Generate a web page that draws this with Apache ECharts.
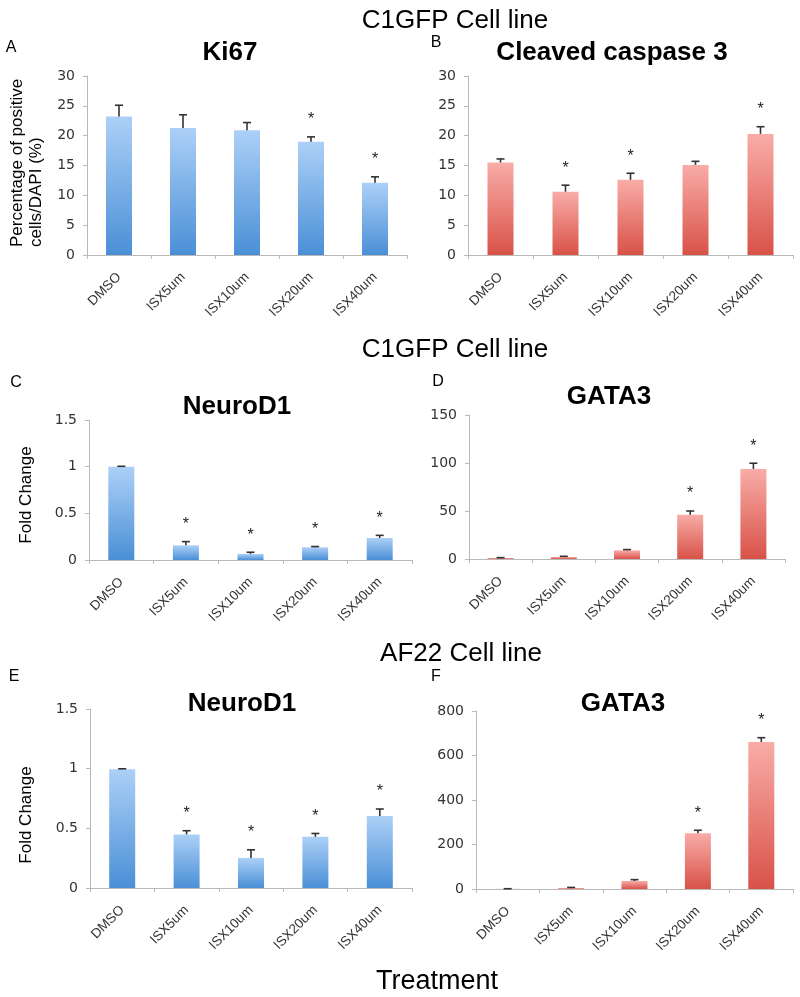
<!DOCTYPE html>
<html>
<head>
<meta charset="utf-8">
<script src="https://cdn.jsdelivr.net/npm/echarts@6/dist/echarts.min.js"></script>
<style>html,body{margin:0;padding:0;background:#fff;}#main{width:800px;height:997px;}</style>
</head>
<body>
<div id="main"></div>
<script>
const categories = ['DMSO', 'ISX5um', 'ISX10um', 'ISX20um', 'ISX40um'];

// Panel A: Ki67 (C1GFP)
const ki67 = [23.2, 21.3, 20.9, 19.0, 12.1];
const ki67Err = [1.9, 2.2, 1.3, 0.8, 1.0];
const ki67Sig = [0, 0, 0, 1, 1];
// Panel B: Cleaved caspase 3 (C1GFP)
const casp3 = [15.5, 10.6, 12.6, 15.1, 20.3];
const casp3Err = [0.6, 1.1, 1.1, 0.6, 1.2];
const casp3Sig = [0, 1, 1, 0, 1];
// Panel C: NeuroD1 (C1GFP)
const neuroC1 = [1.0, 0.157, 0.065, 0.136, 0.236];
const neuroC1Err = [0.004, 0.04, 0.018, 0.008, 0.028];
const neuroC1Sig = [0, 1, 1, 1, 1];
// Panel D: GATA3 (C1GFP)
const gataC1 = [1.0, 2.1, 9.0, 46.2, 93.8];
const gataC1Err = [0.4, 0.7, 0.8, 3.8, 6.0];
const gataC1Sig = [0, 0, 0, 1, 1];
// Panel E: NeuroD1 (AF22)
const neuroAF = [0.995, 0.449, 0.252, 0.429, 0.603];
const neuroAFErr = [0.004, 0.031, 0.068, 0.028, 0.059];
const neuroAFSig = [0, 1, 1, 1, 1];
// Panel F: GATA3 (AF22)
const gataAF = [0.8, 4, 36, 251, 661];
const gataAFErr = [0.5, 3, 6, 13, 19];
const gataAFSig = [0, 0, 0, 1, 1];

const blueGrad = new echarts.graphic.LinearGradient(0, 0, 0, 1, [
  {offset: 0, color: '#acd0f7'}, {offset: 1, color: '#4a8fd6'}]);
const redGrad = new echarts.graphic.LinearGradient(0, 0, 0, 1, [
  {offset: 0, color: '#f9aca7'}, {offset: 1, color: '#d85248'}]);

const panels = [
  {vals: ki67, err: ki67Err, sig: ki67Sig, color: blueGrad, max: 30, interval: 5,
   grid: {left: 87, top: 76, width: 320, height: 179}},
  {vals: casp3, err: casp3Err, sig: casp3Sig, color: redGrad, max: 30, interval: 5,
   grid: {left: 468, top: 76, width: 325, height: 179}},
  {vals: neuroC1, err: neuroC1Err, sig: neuroC1Sig, color: blueGrad, max: 1.5, interval: 0.5,
   grid: {left: 89, top: 420, width: 323, height: 140}},
  {vals: gataC1, err: gataC1Err, sig: gataC1Sig, color: redGrad, max: 150, interval: 50,
   grid: {left: 469, top: 415, width: 316, height: 144}},
  {vals: neuroAF, err: neuroAFErr, sig: neuroAFSig, color: blueGrad, max: 1.5, interval: 0.5,
   grid: {left: 90, top: 709, width: 322, height: 179}},
  {vals: gataAF, err: gataAFErr, sig: gataAFSig, color: redGrad, max: 800, interval: 200,
   grid: {left: 476, top: 711, width: 317, height: 178}}
];

const axisGray = '#b9b9b9';
const grids = [], xAxes = [], yAxes = [], series = [];
panels.forEach((p, i) => {
  grids.push(Object.assign({containLabel: false}, p.grid));
  xAxes.push({
    type: 'category', gridIndex: i, data: categories,
    axisLine: {lineStyle: {color: axisGray, width: 1}},
    axisTick: {show: true, length: 4, lineStyle: {color: axisGray}},
    axisLabel: {rotate: 45, margin: 20, fontSize: 13.5, color: '#333', fontFamily: 'Liberation Sans, Arial, sans-serif'}
  });
  yAxes.push({
    type: 'value', gridIndex: i, min: 0, max: p.max, interval: p.interval,
    splitLine: {show: false},
    axisLine: {show: true, lineStyle: {color: axisGray, width: 1}},
    axisTick: {show: true, length: 4, lineStyle: {color: axisGray}},
    axisLabel: {margin: 12, fontSize: 14, color: '#333', fontFamily: 'DejaVu Sans, sans-serif'}
  });
  series.push({
    type: 'bar', xAxisIndex: i, yAxisIndex: i, data: p.vals, barWidth: 26,
    itemStyle: {color: p.color}, silent: true, animation: false
  });
  series.push({
    type: 'custom', xAxisIndex: i, yAxisIndex: i, animation: false, silent: true, z: 5,
    data: p.vals.map((v, k) => [k, v, p.err[k], p.sig[k]]),
    renderItem: function (params, api) {
      const x = api.value(0), v = api.value(1), e = api.value(2), s = api.value(3);
      const p0 = api.coord([x, v]);
      const p1 = api.coord([x, v + e]);
      const children = [
        {type: 'line', shape: {x1: p0[0], y1: p0[1], x2: p1[0], y2: p1[1]}, style: {stroke: '#333', lineWidth: 1.6}},
        {type: 'line', shape: {x1: p1[0] - 4, y1: p1[1], x2: p1[0] + 4, y2: p1[1]}, style: {stroke: '#333', lineWidth: 1.6}}
      ];
      if (s) {
        children.push({type: 'text', x: p1[0], y: p1[1] - 17,
          style: {text: '*', fill: '#222', font: '16px Liberation Sans, Arial, sans-serif', align: 'center', verticalAlign: 'middle'}});
      }
      return {type: 'group', children: children};
    }
  });
});

function txt(x, y, text, font, extra) {
  return Object.assign({type: 'text', x: x, y: y,
    style: Object.assign({text: text, font: font, fill: '#000', align: 'center', verticalAlign: 'middle'}, extra || {})});
}
const sec = '26px Liberation Sans, Arial, sans-serif';
const ttl = 'bold 26px Liberation Sans, Arial, sans-serif';
const lab = '16px Liberation Sans, Arial, sans-serif';
const graphics = [
  txt(455, 21, 'C1GFP Cell line', sec),
  txt(455, 350, 'C1GFP Cell line', sec),
  txt(461, 654, 'AF22 Cell line', sec),
  txt(437, 982, 'Treatment', '27px Liberation Sans, Arial, sans-serif'),
  txt(230, 53, 'Ki67', ttl),
  txt(612, 53, 'Cleaved caspase 3', ttl),
  txt(237, 407, 'NeuroD1', ttl),
  txt(609, 397, 'GATA3', ttl),
  txt(242, 704, 'NeuroD1', ttl),
  txt(623, 704, 'GATA3', ttl),
  txt(11, 48, 'A', lab),
  txt(436, 43, 'B', lab),
  txt(16, 383, 'C', lab),
  txt(438, 382, 'D', lab),
  txt(14, 677, 'E', lab),
  txt(436, 677, 'F', lab),
  {type: 'text', x: 26.5, y: 247, rotation: Math.PI / 2,
   style: {text: 'Percentage of positive\ncells/DAPI (%)', font: '17px Liberation Sans, Arial, sans-serif',
     fill: '#000', align: 'left', verticalAlign: 'middle', lineHeight: 19}},
  {type: 'text', x: 26, y: 495, rotation: Math.PI / 2,
   style: {text: 'Fold Change', font: '17px Liberation Sans, Arial, sans-serif', fill: '#000', align: 'center', verticalAlign: 'middle'}},
  {type: 'text', x: 26, y: 815, rotation: Math.PI / 2,
   style: {text: 'Fold Change', font: '17px Liberation Sans, Arial, sans-serif', fill: '#000', align: 'center', verticalAlign: 'middle'}}
];

const chart = echarts.init(document.getElementById('main'), null, {renderer: 'canvas'});
chart.setOption({
  backgroundColor: '#fff',
  animation: false,
  grid: grids, xAxis: xAxes, yAxis: yAxes, series: series,
  graphic: graphics
});
</script>
</body>
</html>
